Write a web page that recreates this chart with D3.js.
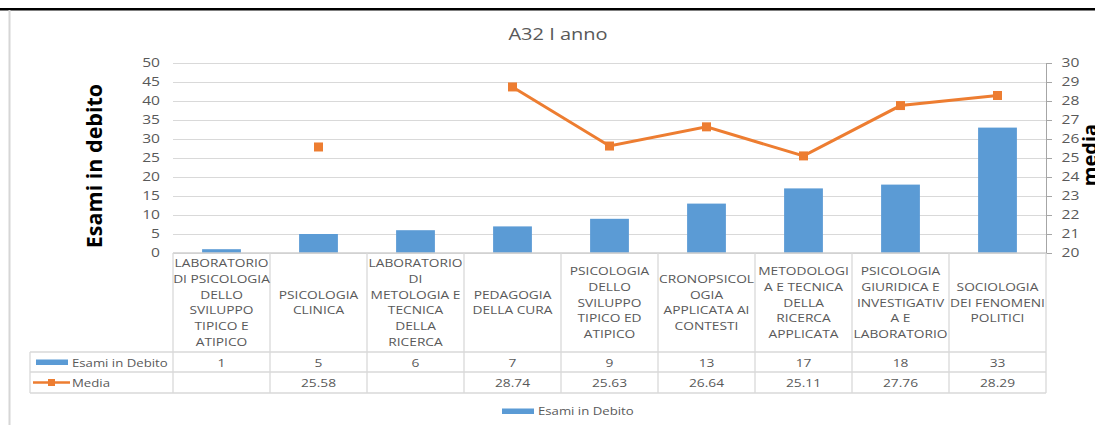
<!DOCTYPE html>
<html lang="it">
<head>
<meta charset="UTF-8">
<title>A32 I anno</title>
<script src="https://d3js.org/d3.v7.min.js"></script>
<style>
  body { margin: 0; background: #fff; }
  text { font-family: "Open Sans", sans-serif; }
</style>
</head>
<body>
<svg class="canvas"></svg>
<script>
var svg_width = 1095, svg_height = 425;

// data
var categories = [
    ["LABORATORIO", "DI PSICOLOGIA", "DELLO", "SVILUPPO", "TIPICO E", "ATIPICO"],
    ["PSICOLOGIA", "CLINICA"],
    ["LABORATORIO", "DI", "METOLOGIA E", "TECNICA", "DELLA", "RICERCA"],
    ["PEDAGOGIA", "DELLA CURA"],
    ["PSICOLOGIA", "DELLO", "SVILUPPO", "TIPICO ED", "ATIPICO"],
    ["CRONOPSICOL", "OGIA", "APPLICATA AI", "CONTESTI"],
    ["METODOLOGI", "A E TECNICA", "DELLA", "RICERCA", "APPLICATA"],
    ["PSICOLOGIA", "GIURIDICA E", "INVESTIGATIV", "A E", "LABORATORIO"],
    ["SOCIOLOGIA", "DEI FENOMENI", "POLITICI"]
];
var esami = [1, 5, 6, 7, 9, 13, 17, 18, 33];
var media = [null, 25.58, null, 28.74, 25.63, 26.64, 25.11, 27.76, 28.29];
var leftTicks = d3.range(0, 51, 5);
var rightTicks = d3.range(20, 31, 1);

var GRAY = "#595959", GRID = "#D9D9D9", BLUE = "#5B9BD5", ORANGE = "#ED7D31";
var SX = 1.25;   // the original text is drawn wide

var svg = d3.select("svg").attr("width", svg_width).attr("height", svg_height);

// frame bits of the screenshot
svg.append("rect").attr("x", 0).attr("y", 8).attr("width", svg_width).attr("height", 2.5).attr("fill", "#000");
svg.append("rect").attr("x", 8.5).attr("y", 10).attr("width", 2).attr("height", svg_height - 10).attr("fill", "#D6D6D6");

var pLeft = 173, pRight = 1046, pTop = 63, pBottom = 253;
var x = d3.scaleBand().domain(d3.range(categories.length)).range([pLeft, pRight]);
var yL = d3.scaleLinear().domain([0, 50]).range([pBottom, pTop]);
var yR = d3.scaleLinear().domain([20, 30]).range([pBottom, pTop]);
var bw = x.bandwidth();

function wideText(g, tx, ty, str, anchor, size, sx) {
    return g.append("text")
        .attr("transform", "translate(" + tx + "," + ty + ") scale(" + (sx || SX) + ",1)")
        .attr("text-anchor", anchor || "middle")
        .attr("font-size", size || 11)
        .attr("fill", GRAY)
        .text(str);
}

// title
wideText(svg, 558, 40, "A32 I anno", "middle", 16);

// left axis + grid
var gl = svg.append("g").attr("transform", "translate(" + pLeft + ",0)")
    .call(d3.axisLeft(yL).tickValues(leftTicks).tickSize(-(pRight - pLeft)).tickPadding(10));
gl.select(".domain").remove();
gl.selectAll(".tick line").attr("stroke", GRID);
gl.selectAll(".tick text").attr("fill", GRAY).attr("font-size", 12)
    .attr("font-family", "Open Sans").attr("transform", "scale(1.3,1)");

// right axis
var gr = svg.append("g").attr("transform", "translate(" + pRight + ",0)")
    .call(d3.axisRight(yR).tickValues(rightTicks).tickSize(6).tickSizeOuter(0).tickPadding(6));
gr.select(".domain").attr("stroke", "#A6A6A6");
gr.selectAll(".tick line").attr("stroke", "#A6A6A6");
gr.selectAll(".tick text").attr("fill", GRAY).attr("font-size", 12)
    .attr("font-family", "Open Sans").attr("transform", "scale(1.3,1)");

// axis titles ("media" sits partly past the right edge, as in the screenshot)
svg.append("text").attr("transform", "translate(102,166) rotate(-90)")
    .attr("text-anchor", "middle").attr("font-size", 21.5).attr("font-weight", "bold")
    .attr("fill", "#000").text("Esami in debito");
svg.append("text").attr("transform", "translate(1097,155) rotate(-90)")
    .attr("text-anchor", "middle").attr("font-size", 20).attr("font-weight", "bold")
    .attr("fill", "#000").text("media");

// bars
svg.selectAll("rect.bar").data(esami).enter().append("rect")
    .attr("class", "bar")
    .attr("x", function(d, i) { return x(i) + bw * 0.3; })
    .attr("y", function(d) { return yL(d); })
    .attr("width", bw * 0.4)
    .attr("height", function(d) { return yL(0) - yL(d); })
    .attr("fill", BLUE);

// line
var line = d3.line()
    .defined(function(d) { return d != null; })
    .x(function(d, i) { return x(i) + bw / 2; })
    .y(function(d) { return yR(d); });
svg.append("path").datum(media).attr("d", line)
    .attr("fill", "none").attr("stroke", ORANGE).attr("stroke-width", 3);
svg.selectAll("rect.mk").data(media).enter()
    .filter(function(d) { return d != null; })
    .append("rect").attr("class", "mk")
    .attr("x", function(d) { return x(media.indexOf(d)) + bw / 2 - 4.5; })
    .attr("y", function(d) { return yR(d) - 4.5; })
    .attr("width", 9).attr("height", 9).attr("fill", ORANGE);

// data table
var row1 = 352, row2 = 372, row3 = 393, legL = 30;
var tb = svg.append("g").attr("stroke", GRID).attr("stroke-width", 1.3);
tb.append("line").attr("x1", pLeft).attr("x2", pRight).attr("y1", pBottom).attr("y2", pBottom).attr("stroke", "#CFCFCF");
[row1, row2, row3].forEach(function(yy) {
    tb.append("line").attr("x1", legL).attr("x2", pRight).attr("y1", yy).attr("y2", yy);
});
tb.append("line").attr("x1", legL).attr("x2", legL).attr("y1", row1).attr("y2", row3);
d3.range(categories.length + 1).forEach(function(i) {
    var xx = i < categories.length ? x(i) : pRight;
    tb.append("line").attr("x1", xx).attr("x2", xx).attr("y1", pBottom).attr("y2", row3);
});

var lh = 15.7;
categories.forEach(function(lines, i) {
    var cy = (pBottom + row1) / 2 - (lines.length - 1) * lh / 2;
    lines.forEach(function(t, k) {
        wideText(svg, x(i) + bw / 2, cy + k * lh + 4, t, "middle", 11);
    });
    wideText(svg, x(i) + bw / 2, (row1 + row2) / 2 + 4.5, String(esami[i]), "middle", 11);
    if (media[i] != null)
        wideText(svg, x(i) + bw / 2, (row2 + row3) / 2 + 4.5, media[i].toFixed(2), "middle", 11);
});

// table legend keys
svg.append("rect").attr("x", 36).attr("y", 359.5).attr("width", 32).attr("height", 5.5).attr("fill", BLUE);
wideText(svg, 72, (row1 + row2) / 2 + 4.5, "Esami in Debito", "start", 11, 1.2);
svg.append("line").attr("x1", 33).attr("x2", 70).attr("y1", 382.5).attr("y2", 382.5)
    .attr("stroke", ORANGE).attr("stroke-width", 2.5);
svg.append("rect").attr("x", 48).attr("y", 379).attr("width", 7).attr("height", 7).attr("fill", ORANGE);
wideText(svg, 72, (row2 + row3) / 2 + 4.5, "Media", "start", 11, 1.2);

// bottom legend
svg.append("rect").attr("x", 502).attr("y", 408.5).attr("width", 32).attr("height", 5.5).attr("fill", BLUE);
wideText(svg, 538, 415, "Esami in Debito", "start", 11, 1.2);
</script>
</body>
</html>
